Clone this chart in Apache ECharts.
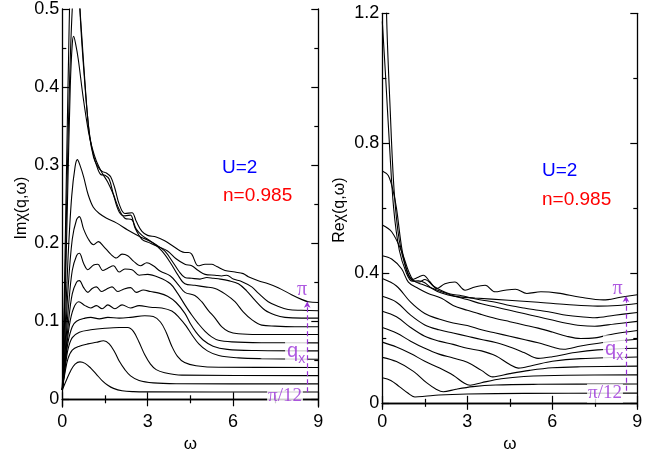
<!DOCTYPE html>
<html><head><meta charset="utf-8">
<script src="https://cdn.jsdelivr.net/npm/echarts@6/dist/echarts.min.js"></script>
<style>html,body{margin:0;padding:0;background:#fff}#c{width:662px;height:458px}</style>
</head><body><div id="c"></div>
<script>
// ---------- tick values ----------
const xMajor = [0, 3, 6, 9];
const imMajor = [0, 0.1, 0.2, 0.3, 0.4, 0.5];
const imMinor = [0.05, 0.15, 0.25, 0.35, 0.45];
const reMajor = [0, 0.4, 0.8, 1.2];
const reMinor = [0.2, 0.6, 1.0];

// ---------- Im chi(q,w): [omega, value], q = pi/12 ... pi ----------
const imQ1 = [[0,.012],[.15,.025],[.3,.037],[.45,.045],[.62,.048],[.8,.046],[1.0,.04],[1.2,.032],[1.4,.024],[1.6,.018],[1.8,.014],[2.1,.011],[2.5,.0098],[3,.0095],[9,.0093]];
const imQ2 = [[0,.012],[.1,.035],[.2,.052],[.35,.063],[.6,.068],[.9,.071],[1.2,.073],[1.45,.075],[1.65,.071],[1.85,.06],[2.0,.049],[2.2,.038],[2.4,.03],[2.7,.024],[3.2,.021],[4,.02],[9,.0197]];
const imQ3 = [[0,.012],[.1,.04],[.2,.064],[.35,.079],[.6,.086],[1.0,.089],[1.5,.091],[2.0,.092],[2.3,.092],[2.5,.087],[2.7,.073],[2.9,.057],[3.1,.045],[3.3,.038],[3.6,.034],[4.2,.031],[9,.0303]];
const imQ4 = [[0,.012],[.1,.045],[.2,.073],[.35,.093],[.5,.1],[.8,.104],[1.0,.105],[1.3,.103],[1.6,.105],[2.0,.104],[2.4,.105],[2.9,.107],[3.2,.106],[3.45,.099],[3.65,.086],[3.85,.068],[4.05,.055],[4.3,.047],[4.7,.043],[5.5,.041],[9,.0408]];
const imQ5 = [[0,.012],[.12,.055],[.25,.095],[.4,.117],[.58,.125],[.8,.12],[1.0,.117],[1.2,.12],[1.4,.116],[1.6,.121],[1.85,.116],[2.1,.121],[2.4,.117],[2.7,.12],[3.1,.118],[3.5,.117],[3.85,.113],[4.1,.105],[4.35,.094],[4.55,.083],[4.8,.071],[5.1,.062],[5.5,.056],[6.2,.053],[7,.052],[9,.0513]];
const imQ6 = [[0,.012],[.1,.05],[.22,.1],[.35,.135],[.5,.15],[.6,.152],[.75,.143],[.9,.137],[1.05,.142],[1.2,.144],[1.38,.138],[1.55,.141],[1.75,.144],[1.95,.138],[2.15,.141],[2.4,.143],[2.6,.137],[2.85,.14],[3.1,.138],[3.4,.136],[3.7,.132],[4.0,.124],[4.31,.11],[4.5,.097],[4.7,.086],[4.95,.076],[5.3,.068],[5.8,.064],[6.8,.0625],[9,.062]];
const imQ7 = [[0,.012],[.1,.06],[.22,.12],[.35,.165],[.5,.184],[.6,.187],[.75,.174],[.9,.166],[1.1,.172],[1.25,.173],[1.42,.165],[1.6,.168],[1.8,.171],[2.0,.163],[2.2,.167],[2.45,.166],[2.7,.159],[3.0,.16],[3.4,.156],[3.8,.148],[4.05,.136],[4.31,.121],[4.55,.108],[4.78,.097],[5.02,.087],[5.25,.08],[5.49,.0756],[5.96,.0735],[7,.0725],[9,.0723]];
const imQ8 = [[0,.012],[.1,.07],[.2,.14],[.35,.205],[.5,.23],[.6,.234],[.75,.218],[.92,.205],[1.1,.198],[1.27,.202],[1.45,.196],[1.7,.186],[1.9,.181],[2.1,.186],[2.3,.184],[2.5,.177],[2.75,.171],[2.97,.175],[3.2,.171],[3.45,.164],[3.8,.158],[4.05,.148],[4.31,.137],[4.66,.133],[4.9,.125],[5.13,.114],[5.37,.104],[5.6,.093],[5.84,.087],[6.19,.084],[6.89,.083],[9,.083]];
const imQ9 = [[0,.012],[.1,.09],[.2,.18],[.33,.26],[.45,.298],[.53,.307],[.62,.3],[.75,.285],[.91,.262],[1.09,.246],[1.3,.238],[1.56,.232],[1.9,.226],[2.3,.217],[2.7,.209],[3.2,.2],[3.5,.19],[3.8,.175],[4.05,.16],[4.31,.148],[4.66,.146],[5.02,.144],[5.37,.142],[5.72,.135],[6.07,.125],[6.36,.112],[6.66,.102],[7.01,.095],[7.48,.0937],[8.18,.093],[9,.093]];
const imQ10 = [[0,.012],[.08,.1],[.18,.25],[.28,.4],[.35,.455],[.4,.465],[.47,.455],[.56,.436],[.74,.385],[.92,.343],[1.05,.322],[1.2,.305],[1.4,.29],[1.6,.278],[1.8,.262],[2.0,.243],[2.2,.232],[2.45,.23],[2.6,.218],[2.8,.21],[3.0,.205],[3.3,.198],[3.6,.19],[3.9,.175],[4.1,.164],[4.31,.156],[4.55,.155],[4.84,.154],[5.08,.156],[5.31,.155],[5.55,.154],[5.84,.152],[6.19,.148],[6.48,.139],[6.77,.127],[7.13,.114],[7.48,.108],[7.83,.105],[8.41,.104],[9,.104]];
const imQ11 = [[0,.012],[.08,.12],[.2,.33],[.35,.5],[.5,.55],[.62,.5],[.75,.43],[.92,.35],[1.05,.32],[1.2,.3],[1.35,.288],[1.5,.287],[1.65,.282],[1.8,.262],[2.0,.24],[2.2,.235],[2.4,.236],[2.55,.22],[2.8,.205],[3.1,.2],[3.4,.195],[3.7,.19],[4.0,.18],[4.31,.173],[4.55,.171],[4.78,.165],[5.02,.16],[5.37,.159],[5.6,.158],[5.78,.159],[6.01,.154],[6.3,.151],[6.66,.144],[6.89,.136],[7.24,.125],[7.59,.119],[7.94,.115],[8.41,.114],[9,.1135]];
const imQ12 = [[0,.012],[.08,.15],[.2,.4],[.35,.62],[.5,.66],[.62,.5],[.78,.41],[.95,.34],[1.1,.31],[1.25,.298],[1.4,.292],[1.55,.29],[1.7,.285],[1.85,.27],[2.0,.25],[2.2,.238],[2.45,.239],[2.6,.228],[2.8,.215],[3.0,.21],[3.3,.208],[3.6,.203],[3.9,.196],[4.15,.19],[4.31,.188],[4.43,.188],[4.55,.186],[4.78,.171],[5.02,.173],[5.25,.173],[5.43,.17],[5.72,.165],[6.07,.163],[6.36,.161],[6.54,.157],[6.89,.152],[7.24,.148],[7.59,.143],[8.06,.134],[8.41,.128],[8.65,.125],[9,.124]];

// ---------- Re chi(q,w) ----------
const reQ1 = [[0,.077],[.3,.069],[.6,.05],[.9,.03],[1.15,.018],[1.5,.02],[2,.024],[3,.027],[5,.029],[9,.03]];
const reQ2 = [[0,.14],[.5,.127],[1.1,.097],[1.56,.062],[1.9,.042],[2.15,.034],[2.6,.042],[3.2,.05],[4,.055],[5.5,.057],[9,.058]];
const reQ3 = [[0,.187],[.5,.172],[1,.152],[1.5,.128],[2,.108],[2.5,.085],[2.9,.06],[3.1,.054],[3.5,.062],[4.2,.074],[5,.081],[6.5,.085],[9,.086]];
const reQ4 = [[0,.232],[.5,.215],[1,.19],[1.5,.168],[2,.15],[2.5,.138],[3,.125],[3.5,.1],[3.9,.08],[4.5,.09],[5.2,.1],[6,.108],[7,.111],[9,.113]];
const reQ5 = [[0,.282],[.5,.265],[1,.232],[1.5,.205],[2,.19],[2.5,.18],[3,.168],[3.5,.16],[4,.145],[4.5,.118],[4.8,.107],[5.3,.115],[6,.128],[7,.136],[9,.141]];
const reQ6 = [[0,.328],[.5,.31],[1,.27],[1.5,.24],[2,.225],[2.5,.215],[3,.205],[3.5,.195],[4,.186],[4.5,.172],[5,.155],[5.5,.137],[6,.142],[6.8,.155],[7.6,.163],[9,.168]];
const reQ7 = [[0,.383],[.5,.36],[1,.31],[1.5,.275],[2,.258],[2.5,.246],[3,.238],[3.5,.225],[4,.215],[4.5,.205],[5,.195],[5.5,.185],[6,.172],[6.4,.165],[7,.175],[8,.188],[9,.196]];
const reQ8 = [[0,.453],[.33,.443],[.68,.413],[.92,.372],[1.27,.352],[1.62,.337],[2.09,.322],[2.5,.3],[3,.285],[3.5,.272],[4,.26],[4.5,.25],[5,.24],[5.5,.23],[6,.218],[6.5,.205],[7,.198],[7.5,.2],[8.2,.213],[9,.223]];
const reQ9 = [[0,.548],[.33,.527],[.68,.467],[.92,.407],[1.1,.377],[1.4,.365],[2,.345],[2.5,.33],[3,.318],[3.5,.305],[4,.295],[4.5,.285],[5,.275],[5.5,.265],[6,.255],[6.5,.245],[7,.238],[7.5,.236],[8.2,.243],[9,.251]];
const reQ10 = [[0,.714],[.21,.70],[.39,.65],[.5,.6],[.7,.47],[.9,.4],[1.1,.375],[1.3,.372],[1.5,.38],[1.8,.36],[2.1,.345],[2.4,.335],[2.8,.33],[3.2,.322],[3.6,.315],[4,.31],[4.5,.3],[5,.292],[5.5,.285],[6,.278],[6.5,.27],[7,.265],[7.5,.262],[8.2,.27],[9,.278]];
const reQ11 = [[0,1.175],[.12,1.0],[.25,.8],[.4,.6],[.6,.47],[.85,.4],[1.05,.375],[1.27,.376],[1.5,.37],[1.74,.353],[2.09,.338],[2.56,.328],[3.27,.323],[4.45,.316],[5.5,.31],[6.5,.303],[7.6,.298],[8.3,.3],[9,.306]];
const reQ12 = [[0,2.0],[.15,1.2],[.28,.9],[.42,.65],[.6,.5],[.85,.41],[1.05,.38],[1.27,.387],[1.45,.393],[1.68,.373],[1.92,.352],[2.21,.367],[2.56,.372],[2.92,.347],[3.27,.357],[3.63,.362],[3.98,.342],[4.33,.347],[4.7,.35],[5.1,.337],[5.6,.342],[6.2,.338],[7,.325],[7.8,.317],[8.4,.325],[9,.333]];

const imCurves = [imQ1, imQ2, imQ3, imQ4, imQ5, imQ6, imQ7, imQ8, imQ9, imQ10, imQ11, imQ12];
const reCurves = [reQ1, reQ2, reQ3, reQ4, reQ5, reQ6, reQ7, reQ8, reQ9, reQ10, reQ11, reQ12];

// annotation positions in data units
const imLabels = [{t:'pi', x:8.43, y:0.140}, {t:'qx', x:8.22, y:0.061}, {t:'pi12', x:7.83, y:0.0045}];
const reLabels = [{t:'pi', x:8.30, y:0.350}, {t:'qx', x:8.18, y:0.165}, {t:'pi12', x:7.86, y:0.0295}];
const imArrow = {x: 8.61, y0: 0.009, y1: 0.125};
const reArrow = {x: 8.60, y0: 0.037, y1: 0.329};

const PURPLE = '#9a30d8';
const FONT = '"Liberation Sans", Arial, sans-serif';
const SERIF = '"Liberation Serif", "Times New Roman", serif';

function xAxes(grid, gap) {
  const base = {
    gridIndex: grid, type: 'value', min: 0, max: 9, interval: 3,
    axisLine: {show: true, lineStyle: {color: '#000', width: 1.3}},
    axisTick: {show: true, inside: true, length: 7, lineStyle: {color: '#000', width: 1.2}},
    minorTick: {show: true, splitNumber: 2, length: 4, lineStyle: {color: '#000', width: 1.2}},
    splitLine: {show: false}, minorSplitLine: {show: false}
  };
  return [
    Object.assign({}, base, {position: 'bottom',
      axisLabel: {show: true, fontSize: 18, color: '#000', fontFamily: FONT, margin: 6},
      name: 'ω', nameLocation: 'middle', nameGap: gap,
      nameTextStyle: {fontSize: 17, color: '#000', fontFamily: FONT}}),
    Object.assign({}, base, {position: 'top', axisLabel: {show: false}})
  ];
}
function yAxes(grid, min, max, major, minor, name, gap) {
  const common = {gridIndex: grid, type: 'value', min: min, max: max, splitLine: {show: false}};
  const tick = (vals, len) => ({show: true, inside: true, length: len, customValues: vals, lineStyle: {color: '#000', width: 1.2}});
  return [
    Object.assign({}, common, {position: 'left',
      axisLine: {show: true, lineStyle: {color: '#000', width: 1.3}},
      axisTick: tick(major, 7),
      axisLabel: {show: true, customValues: major, fontSize: 18, color: '#000', fontFamily: FONT, margin: 3,
        formatter: v => String(Math.round(v * 10) / 10)},
      name: name, nameLocation: 'middle', nameRotate: 90, nameGap: gap,
      nameTextStyle: {fontSize: 16, color: '#000', fontFamily: FONT}}),
    Object.assign({}, common, {position: 'left', axisLine: {show: false}, axisTick: tick(minor, 4), axisLabel: {show: false}}),
    Object.assign({}, common, {position: 'right', axisLine: {show: true, lineStyle: {color: '#000', width: 1.3}}, axisTick: tick(major, 7), axisLabel: {show: false}}),
    Object.assign({}, common, {position: 'right', axisLine: {show: false}, axisTick: tick(minor, 4), axisLabel: {show: false}})
  ];
}

const series = [];
function addCurves(curves, xi, yi) {
  curves.forEach((d, i) => series.push({
    type: 'line', name: 'q' + (i + 1), xAxisIndex: xi, yAxisIndex: yi, data: d,
    smooth: 0.35, showSymbol: false, symbol: 'none', silent: true, clip: true,
    lineStyle: {color: '#000', width: 1.1}, z: 2
  }));
}
addCurves(imCurves, 0, 0);
addCurves(reCurves, 2, 4);

function labelItem(l) {
  if (l.t === 'pi') return {value: [l.x, l.y], label: {formatter: 'π', fontFamily: SERIF, fontSize: 20}};
  if (l.t === 'pi12') return {value: [l.x, l.y], label: {formatter: 'π/12', fontFamily: SERIF, fontSize: 19, backgroundColor: '#fff', padding: [0, 1, 0, 1]}};
  return {value: [l.x, l.y], label: {formatter: '{q|q}{s|x}', backgroundColor: '#fff', padding: [0, 2, 0, 2],
    rich: {q: {fontSize: 20, fontFamily: FONT, color: PURPLE}, s: {fontSize: 14, fontFamily: FONT, color: PURPLE, padding: [14, 0, 0, 0]}}}};
}
function addLabels(labels, arrow, xi, yi) {
  series.push({
    type: 'scatter', xAxisIndex: xi, yAxisIndex: yi, symbolSize: 0, silent: true, z: 5,
    label: {show: true, position: 'inside', color: PURPLE},
    data: labels.map(labelItem),
    markLine: {silent: true, symbol: ['none', 'arrow'], symbolSize: [5, 6], z: 6,
      label: {show: false},
      lineStyle: {color: PURPLE, type: [5, 3], width: 1.2},
      data: [[{coord: [arrow.x, arrow.y0]}, {coord: [arrow.x, arrow.y1]}]]}
  });
}
addLabels(imLabels, imArrow, 0, 0);
addLabels(reLabels, reArrow, 2, 4);

const chart = echarts.init(document.getElementById('c'), null, {renderer: 'canvas'});
chart.setOption({
  animation: false,
  backgroundColor: '#fff',
  grid: [
    {left: 62.3, right: 343.7, top: 9, bottom: 45},
    {left: 382.3, right: 24.7, top: 13.3, bottom: 41.3}
  ],
  xAxis: xAxes(0, 22).concat(xAxes(1, 23)),
  yAxis: yAxes(0, -0.01, 0.5, imMajor, imMinor, 'Imχ(q,ω)', 33)
    .concat(yAxes(1, -0.0132, 1.2, reMajor, reMinor, 'Reχ(q,ω)', 35)),
  graphic: [
    {type: 'text', left: 222, top: 158, style: {text: 'U=2', fill: '#0000ff', font: '19px ' + FONT}},
    {type: 'text', left: 223, top: 186, style: {text: 'n=0.985', fill: '#ff0000', font: '19px ' + FONT}},
    {type: 'text', left: 542, top: 161, style: {text: 'U=2', fill: '#0000ff', font: '19px ' + FONT}},
    {type: 'text', left: 542, top: 190, style: {text: 'n=0.985', fill: '#ff0000', font: '19px ' + FONT}}
  ],
  series: series
});
</script></body></html>
